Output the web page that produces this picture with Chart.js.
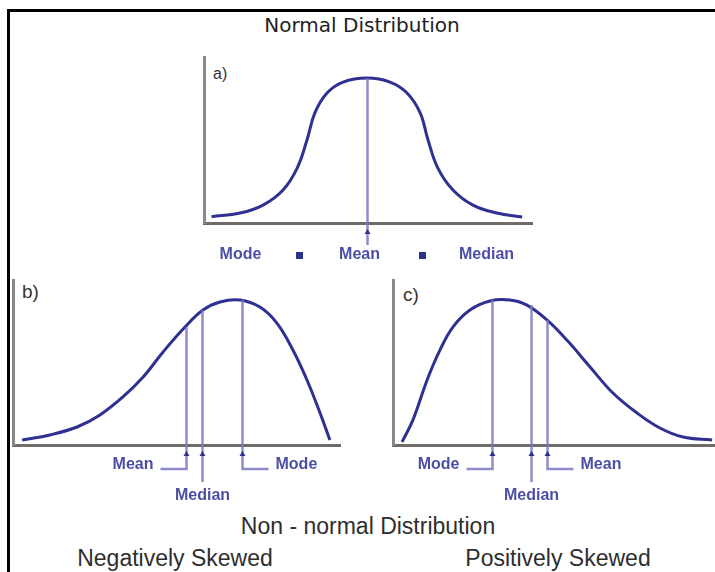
<!DOCTYPE html>
<html>
<head>
<meta charset="utf-8">
<script src="https://cdn.jsdelivr.net/npm/chart.js@4.4.0/dist/chart.umd.min.js"></script>
<style>
    body { margin: 0; background: #fff; }
    #page { position: relative; width: 715px; height: 572px; overflow: hidden; font-family: "Liberation Sans", Arial, sans-serif; color: #2e2e2e; }
    #page canvas { position: absolute; left: 0; top: 0; }
    .frame { position: absolute; left: 7px; top: 9px; width: 708px; height: 563px; border-top: 3px solid #000; border-left: 3px solid #000; }
    .txt { position: absolute; white-space: nowrap; transform: translate(-50%, -50%); }
    .tag { position: absolute; white-space: nowrap; transform: translateY(-50%); color: #333; }
</style>
</head>
<body>
<div id="page">
    <div class="frame"></div>
    <div class="txt" style="left:362px;top:25px;font-family:'DejaVu Sans';font-size:20px;color:#222;">Normal Distribution</div>
    <div class="tag" style="left:213px;top:74px;font-size:16px;">a)</div>
    <div class="tag" style="left:22px;top:292px;font-size:19px;">b)</div>
    <div class="tag" style="left:403px;top:295px;font-size:19px;">c)</div>
    <div class="txt" style="left:368px;top:526px;font-size:23px;">Non - normal Distribution</div>
    <div class="txt" style="left:175px;top:558px;font-size:23px;">Negatively Skewed</div>
    <div class="txt" style="left:558px;top:558px;font-size:23px;">Positively Skewed</div>
    <canvas id="graficoA" width="715" height="572"></canvas>
    <canvas id="graficoB" width="715" height="572"></canvas>
    <canvas id="graficoC" width="715" height="572"></canvas>
</div>

<script>
// a) normal curve
var normalX = [2.3, 11, 18, 24.1, 28.4, 31.4, 33.8, 37.5, 42.4, 49.7, 56.7, 61.9, 65.9, 68.3, 71.3, 75.9, 82, 89.3, 97];
var normalY = [3.8, 6, 10.8, 19.9, 33.1, 50, 66.3, 78.3, 84.9, 87.3, 84.9, 78.3, 66.3, 50, 33.1, 19.9, 10.8, 6, 3.6];
var normalMarcas = ['Mean'];
var normalValores = [49.7];
var normalAlturas = [87.3];
var normalLinha = ['Mode', '■', 'Mean', '■', 'Median'];

// b) negatively skewed
var negX = [2.8, 11.3, 19.6, 26.6, 33.6, 39.8, 45.9, 52.6, 58.1, 63.3, 69.4, 75.5, 80.7, 85.6, 89.9, 93.9, 96.9];
var negY = [3, 6.1, 10.9, 18.2, 29.1, 41.2, 56.4, 71.5, 81.8, 86.7, 87.9, 83.6, 73.9, 57.6, 39.4, 19.4, 3];
var negMarcas = ['Mean', 'Median', 'Mode'];
var negValores = [52.9, 57.8, 70];
var negAlturas = [71.5, 81.8, 87.9];

// c) positively skewed
var posX = [2.8, 6.2, 10.6, 14.6, 18.6, 23.9, 30.1, 36.3, 41.6, 47.8, 54, 61.2, 68.3, 75.8, 82.9, 90.1, 99.1];
var posY = [1.8, 15.2, 39.4, 57.6, 71.5, 81.8, 87.3, 87.9, 84.8, 75.8, 63.6, 47.3, 31.5, 19.4, 10.3, 4.8, 3];
var posMarcas = ['Mode', 'Median', 'Mean'];
var posValores = [30.7, 42.9, 47.8];
var posAlturas = [87.9, 84.8, 75.8];

const corCurva = 'rgb(46, 49, 146)';
const corMarca = 'rgba(122, 120, 194, 0.85)';
const corTexto = 'rgb(76, 78, 165)';

// draws the mean / median / mode lines and their labels below the axis
const marcasPlugin = {
    id: 'marcas',
    afterDatasetsDraw(chart, args, opts) {
        const ctx = chart.ctx;
        const xs = chart.scales.x;
        const ys = chart.scales.y;
        const base = ys.getPixelForValue(0);
        ctx.save();
        ctx.font = 'bold 16px "Liberation Sans", Arial, sans-serif';
        ctx.textBaseline = 'middle';
        opts.nomes.forEach((nome, i) => {
            const px = Math.round(xs.getPixelForValue(opts.valores[i])) + 0.5;
            const topo = ys.getPixelForValue(opts.alturas[i]);
            const lado = opts.lados[i];
            const fim = base + (lado === 'down' ? 37 : lado === 'row' ? 22 : 24);
            ctx.strokeStyle = corMarca;
            ctx.lineWidth = 2.5;
            ctx.beginPath();
            ctx.moveTo(px, topo);
            ctx.lineTo(px, fim);
            if (lado === 'left') ctx.lineTo(px - 26, fim);
            if (lado === 'right') ctx.lineTo(px + 26, fim);
            ctx.stroke();

            ctx.fillStyle = corCurva;
            ctx.beginPath();
            ctx.moveTo(px, base + 6);
            ctx.lineTo(px - 3, base + 11);
            ctx.lineTo(px + 3, base + 11);
            ctx.closePath();
            ctx.fill();

            ctx.fillStyle = corTexto;
            if (lado === 'left') {
                ctx.textAlign = 'right';
                ctx.fillText(nome, px - 33, fim - 4);
            } else if (lado === 'right') {
                ctx.textAlign = 'left';
                ctx.fillText(nome, px + 33, fim - 4);
            } else if (lado === 'down') {
                ctx.textAlign = 'center';
                ctx.fillText(nome, px, fim + 14);
            } else {
                // row: Mode = Mean = Median
                const desloc = [-127, -68, -8, 55, 119];
                ctx.textAlign = 'center';
                opts.linha.forEach((t, j) => {
                    if (t === '■') {
                        ctx.fillStyle = corCurva;
                        ctx.fillRect(px + desloc[j] - 3.5, fim + 7, 7, 7);
                    } else {
                        ctx.fillStyle = corTexto;
                        ctx.fillText(t, px + desloc[j], fim + 10);
                    }
                });
            }
        });
        ctx.restore();
    }
};

function criarGrafico(id, xs, ys, area, marcas) {
    var ctx = document.getElementById(id).getContext('2d');
    return new Chart(ctx, {
        type: 'line',
        data: {
            datasets: [{
                data: xs.map((x, i) => ({ x: x, y: ys[i] })),
                borderColor: corCurva,
                borderWidth: 3,
                pointRadius: 0,
                fill: false,
                tension: 0.4
            }]
        },
        options: {
            responsive: false,
            animation: false,
            events: [],
            layout: { padding: area },
            plugins: {
                legend: { display: false },
                tooltip: { enabled: false },
                marcas: marcas
            },
            scales: {
                x: {
                    type: 'linear', min: 0, max: 100,
                    grid: { display: false, drawTicks: false },
                    ticks: { display: false },
                    border: { display: true, color: 'rgb(112, 107, 102)', width: 3 }
                },
                y: {
                    type: 'linear', min: 0, max: 100,
                    grid: { display: false, drawTicks: false },
                    ticks: { display: false },
                    border: { display: true, color: 'rgb(140, 135, 130)', width: 3 }
                }
            }
        },
        plugins: [marcasPlugin]
    });
}

criarGrafico('graficoA', normalX, normalY,
    { left: 204, right: 183, top: 57, bottom: 349 },
    { nomes: normalMarcas, valores: normalValores, alturas: normalAlturas, lados: ['row'], linha: normalLinha });

criarGrafico('graficoB', negX, negY,
    { left: 13, right: 375, top: 280, bottom: 127 },
    { nomes: negMarcas, valores: negValores, alturas: negAlturas, lados: ['left', 'down', 'right'] });

criarGrafico('graficoC', posX, posY,
    { left: 393, right: 0, top: 280, bottom: 127 },
    { nomes: posMarcas, valores: posValores, alturas: posAlturas, lados: ['left', 'down', 'right'] });
</script>
</body>
</html>
